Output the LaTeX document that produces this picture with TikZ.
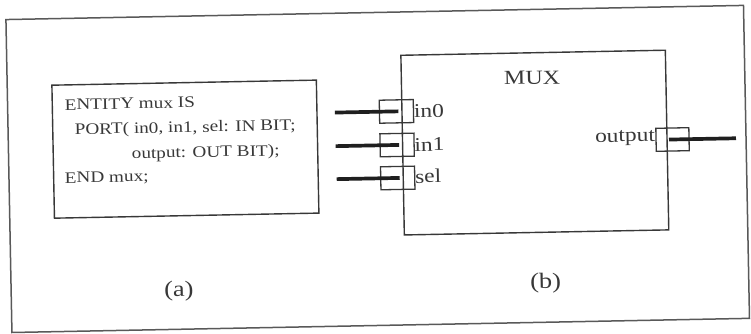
\documentclass[tikz,border=0pt]{standalone}
\usepackage{fontspec}
\setmainfont{Liberation Serif}
\newfontfamily\scan[FakeStretch=1.2]{Liberation Serif}
\definecolor{ink}{gray}{0.22}
\definecolor{frameink}{gray}{0.35}
\definecolor{wireink}{gray}{0.12}
\begin{document}
\begin{tikzpicture}[x=1pt,y=-1pt,
  every node/.style={inner sep=0pt, outer sep=0pt, text=ink},
  codetext/.style={anchor=base west, font=\scan\fontsize{16}{18}\selectfont},
  portlabel/.style={font=\scan\fontsize{19.5}{22}\selectfont},
  titletext/.style={font=\scan\fontsize{20}{22}\selectfont},
  captiontext/.style={font=\scan\fontsize{22}{24}\selectfont},
  portbox/.style={draw=ink, line width=1.3pt, minimum width=34pt, minimum height=23pt},
  wire/.style={draw=wireink, line width=3.7pt},
  block/.style={draw=ink, line width=1.4pt, rectangle}]
\useasboundingbox (0,0) rectangle (751,333);
\fill[white] (0,0) rectangle (751,333);
\begin{scope}[rotate around={1.1:(375,166)}, transform shape]
  % outer frame
  \draw[frameink, line width=1.5pt] (8.8,12.5) rectangle (746.5,325.5);
  % (a) code box
  \node[block, minimum width=264.5pt, minimum height=133pt] (code) at (185.75,145.5) {};
  \node[codetext] (l1) at (66,104.1) {ENTITY mux IS};
  \node[codetext] (l2) at (75.6,128.8) {PORT( in0, in1, sel: IN BIT;};
  \node[codetext] (l3) at (132.1,153.9) {output: OUT BIT);};
  \node[codetext] (l4) at (64.7,177.1) {END mux;};
  % (b) MUX block
  \node[block, minimum width=264.5pt, minimum height=179.7pt] (mux) at (535.25,145.65) {};
  \node[titletext] (muxlabel) at (533.7,81) {MUX};
  % ports
  \node[portbox] (p0) at (397.5,111.8) {};
  \node[portbox] (p1) at (397.5,145.4) {};
  \node[portbox] (ps) at (397.5,178.4) {};
  \node[portbox, minimum width=33pt] (po) at (673,145.2) {};
  \coordinate (w0) at (336,111.8);
  \coordinate (w1) at (336,145.4);
  \coordinate (ws) at (336.5,178.4);
  \coordinate (wo) at (736.5,145.2);
  \draw[wire] (w0) -- ([xshift=2pt]p0.center);
  \draw[wire] (w1) -- ([xshift=2pt]p1.center);
  \draw[wire] (ws) -- ([xshift=2pt]ps.center);
  \draw[wire] ([xshift=-3.5pt]po.center) -- (wo);
  \node[portlabel, anchor=west] (t0) at (415,112.3) {in0};
  \node[portlabel, anchor=west] (t1) at (415,145.5) {in1};
  \node[portlabel, anchor=west] (ts) at (415,177.1) {sel};
  \node[portlabel, anchor=east] (to) at (655.5,143.2) {output};
  % captions
  \node[captiontext] (capa) at (176.6,287.5) {(a)};
  \node[captiontext] (capb) at (543.3,286.5) {(b)};
\end{scope}
\end{tikzpicture}
\end{document}
